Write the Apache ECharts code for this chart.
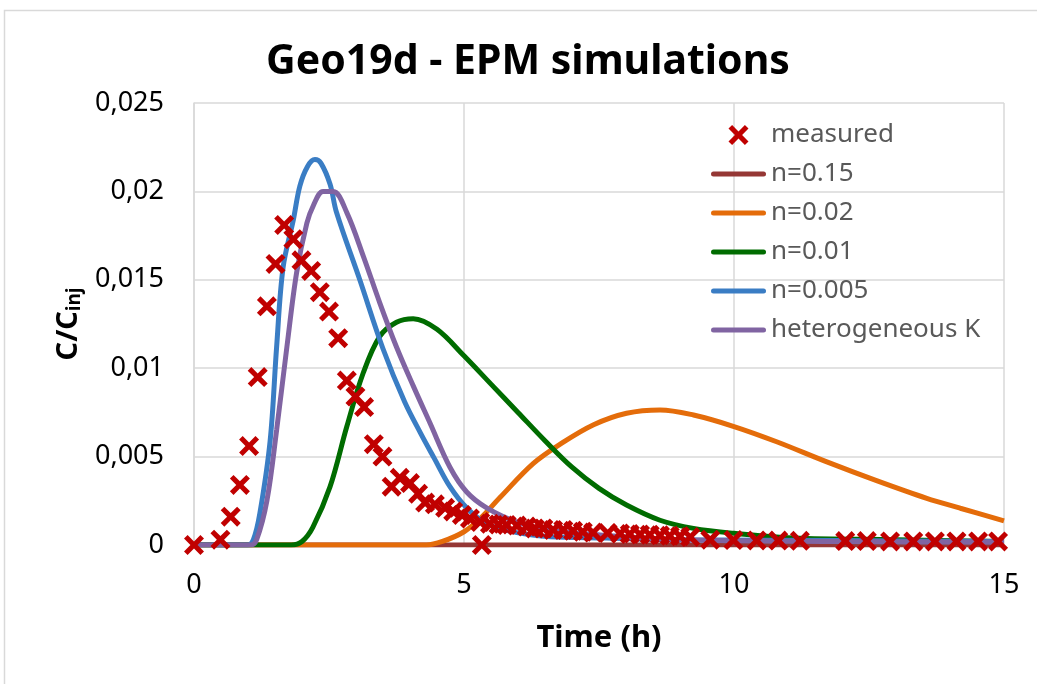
<!DOCTYPE html>
<html lang="en">
  <head>
    <meta charset="UTF-8" />
    <title>Geo19d - EPM simulations</title>
    <style>
      html, body { margin: 0; padding: 0; background: #fff; }
    </style>
  </head>
  <body>
    <div id="main" style="width: 1037px; height: 684px"></div>

    <script src="https://cdn.jsdelivr.net/npm/echarts@6/dist/echarts.min.js"></script>
    <script>
      // measured breakthrough (time in h, C/Cinj)
      const measuredT = [0, 0.49, 0.68, 0.85, 1.02, 1.18, 1.35, 1.51, 1.67, 1.84, 1.99, 2.17, 2.33, 2.5, 2.67, 2.83, 2.99, 3.15, 3.33, 3.49, 3.66, 3.81, 4.0, 4.15, 4.28, 4.46, 4.65, 4.8, 4.96, 5.11, 5.3, 5.33, 5.48, 5.64, 5.79, 5.98, 6.16, 6.31, 6.47, 6.65, 6.84, 7.02, 7.2, 7.39, 7.66, 7.89, 8.07, 8.26, 8.44, 8.63, 8.81, 9.0, 9.19, 9.56, 9.99, 10.42, 10.82, 11.22, 12.06, 12.46, 12.89, 13.32, 13.72, 14.12, 14.52, 14.89]
      const measuredC = [0, 0.0003, 0.0016, 0.0034, 0.0056, 0.0095, 0.0135, 0.0159, 0.0181, 0.0173, 0.0161, 0.0155, 0.0143, 0.0132, 0.0117, 0.0093, 0.0084, 0.0078, 0.0057, 0.005, 0.0033, 0.0038, 0.0035, 0.0029, 0.0024, 0.0023, 0.0021, 0.0019, 0.0017, 0.0015, 0.0013, 0, 0.0012, 0.00116, 0.00113, 0.0011, 0.00104, 0.00094, 0.00094, 0.00085, 0.00085, 0.0008, 0.00075, 0.0007, 0.00068, 0.00065, 0.00062, 0.0006, 0.00058, 0.00055, 0.00052, 0.0005, 0.00045, 0.0003, 0.00028, 0.00026, 0.00025, 0.00024, 0.00022, 0.00022, 0.0002, 0.0002, 0.0002, 0.0002, 0.0002, 0.0002]

      // simulated curves
      const n015T = [0, 15]
      const n015C = [0, 0]

      const n002T = [0, 4.3, 4.6, 5.0, 5.3, 5.67, 6.28, 6.78, 7.4, 8.01, 8.63, 9.25, 10.0, 10.79, 11.72, 12.64, 13.57, 14.19, 15]
      const n002C = [0, 0, 0.0002, 0.00075, 0.0015, 0.0027, 0.0046, 0.0057, 0.0068, 0.00745, 0.00764, 0.00735, 0.0067, 0.00584, 0.0047, 0.00364, 0.00264, 0.00208, 0.00136]

      const n001T = [0, 1.8, 2.0, 2.2, 2.52, 2.83, 3.13, 3.44, 3.75, 4.06, 4.5, 5.0, 5.5, 6.0, 6.5, 7.0, 7.5, 8.01, 8.63, 9.25, 10.0, 11.1, 13.0, 15]
      const n001C = [0, 0, 0.0002, 0.001, 0.0033, 0.0067, 0.0097, 0.0118, 0.0126, 0.0128, 0.0122, 0.0107, 0.0091, 0.0075, 0.0059, 0.0044, 0.0032, 0.00226, 0.0014, 0.00094, 0.00066, 0.0004, 0.0003, 0.0002]

      const n0005T = [0, 1.0, 1.1, 1.22, 1.41, 1.53, 1.65, 1.84, 1.96, 2.1, 2.24, 2.35, 2.52, 2.64, 3.07, 3.5, 3.9, 4.2, 4.45, 4.74, 5.05, 5.42, 5.98, 6.6, 7.64, 9.0, 12.0, 15]
      const n0005C = [0, 0, 0.0003, 0.0018, 0.0059, 0.0112, 0.0157, 0.0184, 0.0203, 0.0214, 0.0218, 0.0216, 0.0204, 0.0188, 0.015, 0.0111, 0.0081, 0.0063, 0.0049, 0.0033, 0.0021, 0.0012, 0.0007, 0.00047, 0.0004, 0.0003, 0.00025, 0.0002]

      const hetT = [0, 1.05, 1.16, 1.35, 1.53, 1.72, 1.9, 2.09, 2.21, 2.39, 2.58, 2.83, 3.14, 3.44, 3.75, 4.06, 4.37, 4.74, 5.05, 5.42, 5.98, 6.6, 7.52, 9.0, 12.0, 15]
      const hetC = [0, 0, 0.0003, 0.0025, 0.0065, 0.0112, 0.0154, 0.0182, 0.0192, 0.02, 0.02, 0.0188, 0.0163, 0.0137, 0.0112, 0.009, 0.0069, 0.0044, 0.003, 0.0021, 0.0013, 0.00085, 0.00057, 0.0003, 0.0002, 0.00015]

      const xTicks = [0, 5, 10, 15]
      const yTickLabels = ['0', '0,005', '0,01', '0,015', '0,02', '0,025']

      const pair = (t, c) => t.map((v, i) => [v, c[i]])

      const font = "'Noto Sans', sans-serif"
      const xMark = 'path://M0,1.8L1.8,0L5,3.2L8.2,0L10,1.8L6.8,5L10,8.2L8.2,10L5,6.8L1.8,10L0,8.2L3.2,5Z'
      // same cross, padded so that it sits in the middle of the 55px legend slot
      const xLegend = 'path://M0,0M55,20M17.5,3.6L21.1,0L27.5,6.4L33.9,0L37.5,3.6L31.1,10L37.5,16.4L33.9,20L27.5,13.6L21.1,20L17.5,16.4L23.9,10Z'
      // a plain bar for the line series
      const lineLegend = 'path://M0,0M55,20M2.5,7.5L52.5,7.5A2.5,2.5,0,0,1,52.5,12.5L2.5,12.5A2.5,2.5,0,0,1,2.5,7.5Z'

      const lineSeries = (name, data, color) => ({
        name,
        type: 'line',
        data,
        symbol: 'none',
        smooth: 0.35,
        lineStyle: { color, width: 5 },
        itemStyle: { color },
        z: 2
      })

      let option = {
        animation: false,
        title: {
          text: 'Geo19d - EPM simulations',
          left: 261,
          top: 37,
          textStyle: { fontFamily: font, fontWeight: 'bold', fontSize: 41, color: '#000' }
        },
        grid: { left: 194, right: 33, top: 103, bottom: 139 },
        legend: {
          orient: 'vertical',
          left: 706,
          top: 115,
          itemWidth: 55,
          itemHeight: 20,
          itemGap: 9,
          textStyle: { fontFamily: font, fontSize: 26, color: '#595959', lineHeight: 30 },
          data: [
            { name: 'measured', icon: xLegend },
            { name: 'n=0.15', icon: lineLegend },
            { name: 'n=0.02', icon: lineLegend },
            { name: 'n=0.01', icon: lineLegend },
            { name: 'n=0.005', icon: lineLegend },
            { name: 'heterogeneous K', icon: lineLegend }
          ]
        },
        xAxis: {
          type: 'value',
          min: xTicks[0],
          max: xTicks[xTicks.length - 1],
          interval: 5,
          name: 'Time (h)',
          nameLocation: 'middle',
          nameGap: 78,
          nameTextStyle: { fontFamily: font, fontWeight: 'bold', fontSize: 31, color: '#000' },
          axisLine: { lineStyle: { color: '#D9D9D9', width: 1.5 } },
          axisTick: { show: false },
          axisLabel: { margin: 27, fontFamily: font, fontSize: 27, color: '#000' },
          splitLine: { lineStyle: { color: '#D9D9D9', width: 1.5 } }
        },
        yAxis: {
          type: 'value',
          min: 0,
          max: 0.025,
          interval: 0.005,
          name: '{a|C/C}{b|inj}',
          nameLocation: 'middle',
          nameGap: 108,
          nameTextStyle: {
            rich: {
              a: { fontFamily: font, fontWeight: 'bold', fontSize: 29, color: '#000', lineHeight: 30, verticalAlign: 'top' },
              b: { fontFamily: font, fontWeight: 'bold', fontSize: 19, color: '#000', lineHeight: 20, padding: [22, 0, 0, 0], verticalAlign: 'bottom' }
            }
          },
          axisLine: { show: true, lineStyle: { color: '#D9D9D9', width: 1.5 } },
          axisTick: { show: false },
          axisLabel: {
            margin: 30,
            fontFamily: font,
            fontSize: 27,
            color: '#000',
            formatter: (v) => yTickLabels[Math.round(v / 0.005)]
          },
          splitLine: { lineStyle: { color: '#D9D9D9', width: 1.5 } }
        },
        graphic: [
          {
            type: 'rect',
            shape: { x: 4.5, y: 10.5, width: 1100, height: 1000 },
            style: { fill: 'none', stroke: '#D9D9D9', lineWidth: 1.5 },
            silent: true
          }
        ],
        series: [
          lineSeries('n=0.15', pair(n015T, n015C), '#953735'),
          lineSeries('n=0.02', pair(n002T, n002C), '#E46C0A'),
          lineSeries('n=0.01', pair(n001T, n001C), '#006C00'),
          lineSeries('n=0.005', pair(n0005T, n0005C), '#3A7DC4'),
          lineSeries('heterogeneous K', pair(hetT, hetC), '#8064A2'),
          {
            name: 'measured',
            type: 'scatter',
            data: pair(measuredT, measuredC),
            symbol: xMark,
            symbolSize: 20,
            itemStyle: { color: '#C00000', opacity: 1 },
            z: 5
          }
        ]
      }
      echarts.init(document.querySelector('#main')).setOption(option)
    </script>
  </body>
</html>
